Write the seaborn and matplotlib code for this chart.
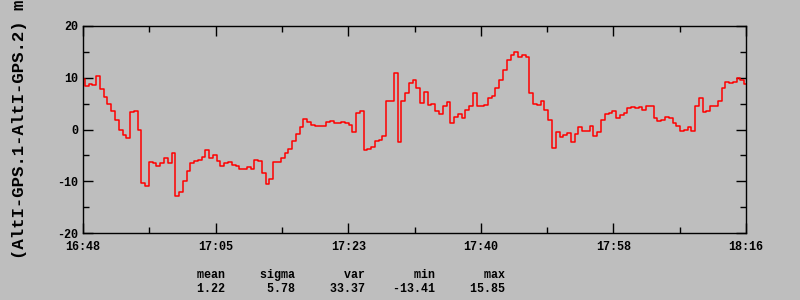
import numpy as np
import matplotlib
matplotlib.use("Agg")
import matplotlib.pyplot as plt
import seaborn as sns
from matplotlib.ticker import MultipleLocator

# ---- data ----
step_min = 0.5  # sampling step in minutes since 16:48
values = [
    9.7, 8.5, 8.8, 8.6, 10.3, 7.8, 6.2, 5.0, 3.6, 1.9,
    0.0, -1.0, -1.6, 3.3, 3.5, 0.0, -10.3, -10.9, -6.2, -6.5,
    -7.0, -6.5, -5.6, -6.5, -4.5, -12.8, -12.0, -10.0, -8.0, -6.5,
    -6.0, -5.8, -5.4, -4.0, -5.5, -5.0, -6.0, -7.0, -6.5, -6.3,
    -6.8, -7.0, -7.7, -7.6, -7.3, -7.6, -5.8, -6.0, -8.5, -10.6,
    -9.6, -6.3, -6.3, -5.6, -4.5, -3.7, -2.2, -0.8, 0.5, 2.0,
    1.5, 0.8, 0.6, 0.7, 0.6, 1.5, 1.7, 1.2, 1.3, 1.4,
    1.3, 0.8, -0.4, 3.2, 3.5, -3.9, -3.7, -3.3, -2.2, -2.0,
    -1.2, 5.5, 5.5, 11.0, -2.5, 5.6, 7.0, 9.0, 9.5, 8.0,
    5.2, 7.2, 4.8, 5.0, 3.6, 2.9, 4.6, 5.3, 1.3, 2.5,
    3.0, 2.3, 3.8, 4.5, 7.0, 4.6, 4.5, 4.8, 6.0, 6.5,
    8.0, 9.5, 11.5, 13.5, 14.3, 15.0, 14.0, 14.3, 14.0, 7.0,
    4.9, 4.8, 5.5, 3.8, 1.8, -3.5, -0.4, -1.5, -1.0, -0.6,
    -2.4, -0.8, 0.5, -0.3, -0.2, 0.6, -1.2, -0.5, 1.8, 3.0,
    3.2, 3.5, 2.3, 2.8, 3.1, 4.2, 4.4, 4.2, 4.3, 3.8,
    4.6, 4.5, 2.3, 1.6, 1.9, 2.5, 2.2, 1.3, 0.7, -0.2,
    -0.1, 0.4, -0.3, 4.5, 6.0, 3.3, 3.5, 4.6, 4.5, 5.5,
    8.0, 9.2, 8.9, 9.1, 10.0, 9.5, 8.7,
]
minutes = [i * step_min for i in range(len(values))]

x_tick_labels = ["16:48", "17:05", "17:23", "17:40", "17:58", "18:16"]
x_span_min = 88.0
y_tick_values = [-20, -10, 0, 10, 20]

stat_names = ["mean", "sigma", "var", "min", "max"]
stat_values = ["1.22", "5.78", "33.37", "-13.41", "15.85"]

ylabel = "(AltI-GPS.1-AltI-GPS.2) m"

# ---- style ----
bg = "#bebebe"
sns.set_style("ticks")
plt.rcParams["font.family"] = ["Liberation Mono", "DejaVu Sans Mono"]
plt.rcParams["font.weight"] = "bold"
plt.rcParams["axes.unicode_minus"] = False

fig = plt.figure(figsize=(8, 3), dpi=100, facecolor=bg)
ax = fig.add_axes([83 / 800, 1 - 233 / 300, 663 / 800, 207 / 300])
ax.set_facecolor(bg)

sns.lineplot(x=minutes, y=values, ax=ax, color="#ff0000", linewidth=1.1,
             drawstyle="steps-mid", estimator=None, sort=False, legend=False)

ax.set_xlim(0, x_span_min)
ax.set_ylim(-20, 20)
xt = np.linspace(0, x_span_min, len(x_tick_labels))
ax.set_xticks(xt)
ax.set_xticklabels(x_tick_labels)
ax.xaxis.set_minor_locator(MultipleLocator(x_span_min / (len(x_tick_labels) - 1) / 2))
ax.set_yticks(y_tick_values)
ax.set_yticklabels([str(v) for v in y_tick_values])
ax.yaxis.set_minor_locator(MultipleLocator(5))

for s in ax.spines.values():
    s.set_visible(True)
    s.set_color("black")
    s.set_linewidth(1.0)

ax.tick_params(which="both", direction="in", top=True, right=True,
               colors="black", width=1.0, labelsize=8.5)
ax.tick_params(which="major", length=7)
ax.tick_params(which="minor", length=4.3)
ax.tick_params(axis="x", which="major", pad=6)
ax.tick_params(axis="y", which="major", pad=3.5)
for lab in ax.get_xticklabels() + ax.get_yticklabels():
    lab.set_fontweight("bold")

ax.set_xlabel("")
ax.set_ylabel("")

fig.text(20 / 800, 1 - 129.5 / 300, ylabel, rotation=90, ha="center",
         va="center", fontsize=12.5, fontweight="bold", color="black")

header = "".join(f"{n:>10}" for n in stat_names)
vals_line = "".join(f"{v:>10}" for v in stat_values)
fig.text(155 / 800, 1 - 275 / 300, header, ha="left", va="center",
         fontsize=8.4, fontweight="bold", color="black")
fig.text(155 / 800, 1 - 289 / 300, vals_line, ha="left", va="center",
         fontsize=8.4, fontweight="bold", color="black")

fig.savefig("out.png", dpi=100, facecolor=bg)
